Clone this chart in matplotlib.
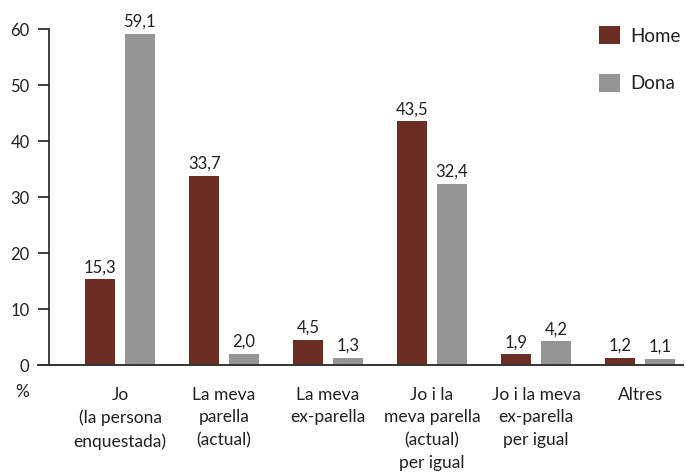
import matplotlib
matplotlib.use("Agg")
import matplotlib.pyplot as plt
import numpy as np

categories = ["Jo\n(la persona\nenquestada)", "La meva\nparella\n(actual)", "La meva\nex-parella",
              "Jo i la\nmeva parella\n(actual)\nper igual", "Jo i la meva\nex-parella\nper igual", "Altres"]
home = [15.3, 33.7, 4.5, 43.5, 1.9, 1.2]
dona = [59.1, 2.0, 1.3, 32.4, 4.2, 1.1]
series_names = ["Home", "Dona"]
yticks = [0, 10, 20, 30, 40, 50, 60]

c_home = "#6B2E25"
c_dona = "#959595"
txt = "#231F20"

plt.rcParams['font.family'] = ['Lato', 'DejaVu Sans']

W, H = 686, 472
fig = plt.figure(figsize=(W/100, H/100), dpi=100)
ax = fig.add_axes([49/W, 1-365/H, (683-49)/W, (365-29)/H])

x = np.arange(len(categories))
off = 0.19
bw = 0.29
b1 = ax.bar(x - off, home, bw, color=c_home, label=series_names[0])
b2 = ax.bar(x + off, dona, bw, color=c_dona, label=series_names[1])

def fmt(v):
    return f"{v:.1f}".replace(".", ",")

for bars, vals in ((b1, home), (b2, dona)):
    for r, v in zip(bars, vals):
        ax.annotate(fmt(v), (r.get_x() + r.get_width()/2, v), xytext=(0, 3),
                    textcoords="offset points", ha="center", va="bottom",
                    fontsize=12, color=txt)

ax.set_xlim(-0.683, 5.413)
ax.set_ylim(0, 60)
ax.set_yticks(yticks)
ax.set_yticklabels([str(t) for t in yticks], fontsize=12, color=txt)
ax.tick_params(axis='y', length=8, width=1.2, color=txt, pad=6)
ax.set_xticks(x)
ax.set_xticklabels(categories, fontsize=12.5, color=txt, linespacing=1.52)
ax.tick_params(axis='x', length=0, pad=15.5)
for s in ("top", "right"):
    ax.spines[s].set_visible(False)
ax.spines["left"].set_linewidth(1.2)
ax.spines["left"].set_color(txt)
ax.spines["bottom"].set_linewidth(1.4)
ax.spines["bottom"].set_color("#333333")

# extend baseline to the left of the y axis
ax.plot([-0.79, -0.683], [0, 0], color="#333333", lw=1.4, clip_on=False)

fig.text(22/W, 1-392/H, "%", fontsize=12.5, color=txt, ha="center", va="center")

leg = ax.legend(loc="upper left", bbox_to_anchor=(582/W, 1-9/H), bbox_transform=fig.transFigure,
                frameon=False, fontsize=13.5, handlelength=1.15, handleheight=1.15,
                labelspacing=1.55, handletextpad=0.55, labelcolor=txt)

fig.savefig("out.png", dpi=100)
